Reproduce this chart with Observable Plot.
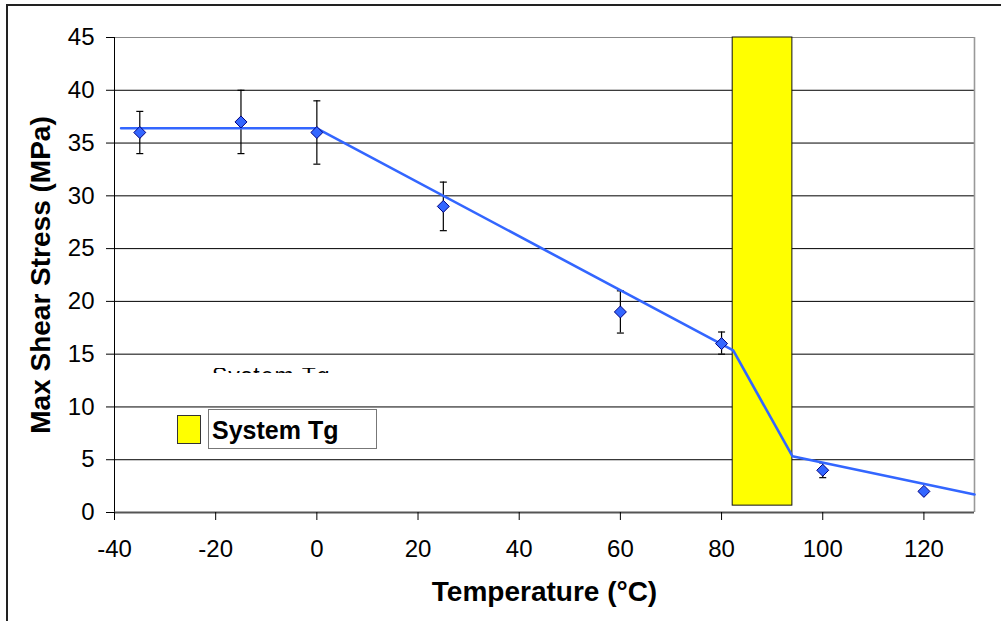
<!DOCTYPE html>
<html>
<head>
<meta charset="utf-8">
<script src="https://cdn.jsdelivr.net/npm/d3@7"></script>
<script src="https://cdn.jsdelivr.net/npm/@observablehq/plot@0.6"></script>
<style>
  html, body { margin: 0; padding: 0; background: white; }
  #wrap { position: relative; width: 1001px; height: 621px; overflow: hidden; font-family: "Liberation Sans", Arial, sans-serif; }
  #wrap svg { position: absolute; left: 0; top: 0; }
  .abs { position: absolute; }
</style>
</head>
<body>
<div id="wrap"></div>
<script>
// ---- data ----
const temps    = [-35, -15, 0, 25, 60, 80, 100, 120];
const stress   = [36, 37, 36, 29, 19, 16, 4, 2];
const errLow   = [34, 34, 33, 26.7, 17, 15, 3.3, 2];
const errHigh  = [38, 40, 39, 31.3, 21, 17.1, 4.7, 2];

const fitTemp   = [-38.7, 0, 82.3, 94, 130];
const fitStress = [36.4, 36.4, 15.35, 5.33, 1.7];

const tgStart  = [82.2];
const tgEnd    = [94];
const tgBottom = [0.65];
const tgTop    = [45];

const xTicks = [-40, -20, 0, 20, 40, 60, 80, 100, 120];
const yTicks = [0, 5, 10, 15, 20, 25, 30, 35, 40, 45];

const xTitle = "Temperature (°C)";
const yTitle = "Max Shear Stress (MPa)";
const legendLabel = "System Tg";

// ---- tables built from the arrays ----
const points = temps.map((t, i) => ({t, s: stress[i], lo: errLow[i], hi: errHigh[i]}));
const fit = fitTemp.map((t, i) => ({t, s: fitStress[i]}));
const band = tgStart.map((x1, i) => ({x1, x2: tgEnd[i], y1: tgBottom[i], y2: tgTop[i]}));

const capSymbol = { draw(ctx) { ctx.moveTo(-3.5, 0); ctx.lineTo(3.5, 0); } };

const fmt = d => String(d);
const font = "Liberation Sans, Arial, sans-serif";

const chart = Plot.plot({
  width: 1001,
  height: 621,
  marginLeft: 114,
  marginRight: 27,
  marginTop: 37,
  marginBottom: 109,
  x: {domain: [-40, 130]},
  y: {domain: [0, 45]},
  style: {fontFamily: font, background: "white", color: "black", overflow: "visible"},
  marks: [
    Plot.ruleY(yTicks.filter(v => v > 0 && v < 45), {stroke: "black", strokeWidth: 1}),
    Plot.ruleY([45], {stroke: "#888", strokeWidth: 1.2}),
    Plot.ruleX([130], {stroke: "#999", strokeWidth: 1.6}),
    Plot.rect(band, {x1: "x1", x2: "x2", y1: "y1", y2: "y2", fill: "#FFFF00", stroke: "#111", strokeWidth: 1}),
    Plot.ruleX([-40], {stroke: "black", strokeWidth: 1}),
    Plot.ruleY([0], {stroke: "#555", strokeWidth: 2}),
    Plot.axisX({ticks: xTicks, tickSize: 8, tickPadding: 19, fontSize: 24, label: null, tickFormat: fmt, fill: "black", stroke: "black"}),
    Plot.axisY({ticks: yTicks, tickSize: 8, tickPadding: 12, fontSize: 24, label: null, tickFormat: fmt, fill: "black", stroke: "black"}),
    Plot.ruleX(points, {x: "t", y1: "lo", y2: "hi", stroke: "black", strokeWidth: 1.2}),
    Plot.dot(points, {x: "t", y: "lo", symbol: capSymbol, stroke: "black", strokeWidth: 1.2, fill: "none"}),
    Plot.dot(points, {x: "t", y: "hi", symbol: capSymbol, stroke: "black", strokeWidth: 1.2, fill: "none"}),
    Plot.line(fit, {x: "t", y: "s", stroke: "#3366FF", strokeWidth: 2.6}),
    Plot.dot(points, {x: "t", y: "s", symbol: "diamond2", r: 5.4, fill: "#3366FF", stroke: "#000080", strokeWidth: 1}),
    Plot.text([xTitle], {frameAnchor: "bottom", dy: 80, fontSize: 28, fontWeight: "bold", textAnchor: "middle", lineAnchor: "middle", fill: "black"}),
    Plot.text([yTitle], {frameAnchor: "left", dx: -73.5, rotate: -90, fontSize: 28, fontWeight: "bold", textAnchor: "middle", lineAnchor: "middle", fill: "black"})
  ]
});

const wrap = document.getElementById("wrap");
wrap.appendChild(chart);

// outer chart-area border (left and top visible)
const border = document.createElement("div");
border.className = "abs";
Object.assign(border.style, {left: "6px", top: "4px", width: "1100px", height: "700px", borderLeft: "2px solid #222", borderTop: "2px solid #222", pointerEvents: "none"});
wrap.appendChild(border);

// clipped remnant of a label (only a thin strip of glyph tops visible)
const strip = document.createElement("div");
strip.className = "abs";
Object.assign(strip.style, {left: "212px", top: "368px", width: "140px", height: "5px", overflow: "hidden"});
const stripText = document.createElement("div");
Object.assign(stripText.style, {position: "relative", top: "-3px", fontSize: "23px", lineHeight: "23px", letterSpacing: "1px", whiteSpace: "nowrap", color: "#000"});
stripText.textContent = legendLabel;
strip.appendChild(stripText);
wrap.appendChild(strip);

// legend
const swatch = document.createElement("div");
swatch.className = "abs";
Object.assign(swatch.style, {left: "177px", top: "415px", width: "24px", height: "29px", boxSizing: "border-box", background: "#FFFF00", border: "1px solid #333"});
wrap.appendChild(swatch);

const box = document.createElement("div");
box.className = "abs";
Object.assign(box.style, {left: "208px", top: "409px", width: "169px", height: "40px", boxSizing: "border-box", background: "white", border: "1px solid #777"});
wrap.appendChild(box);

const lbl = document.createElement("div");
lbl.className = "abs";
Object.assign(lbl.style, {left: "212px", top: "418px", fontSize: "25px", lineHeight: "25px", fontWeight: "bold", whiteSpace: "nowrap", color: "#000"});
lbl.textContent = legendLabel;
wrap.appendChild(lbl);
</script>
</body>
</html>
